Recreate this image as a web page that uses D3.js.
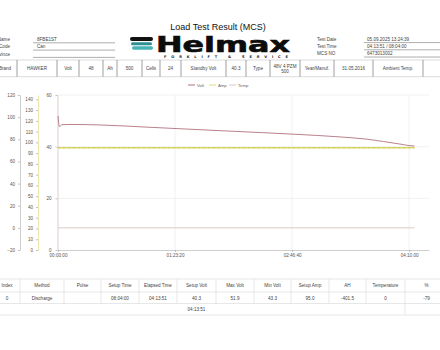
<!DOCTYPE html>
<html>
<head>
<meta charset="utf-8">
<script src="https://cdn.jsdelivr.net/npm/d3@7"></script>
<style>
body { margin: 0; background: #fff; }
svg { display: block; font-family: "Liberation Sans", Arial, sans-serif; }
</style>
</head>
<body>
<svg id="chart" width="440" height="350"></svg>
<script>
// ---- data ----
const timeSec = [0, 60, 170, 510, 1795, 3930, 7140, 10340, 11840, 13200, 14615, 15170, 15231];
const voltValues = [51.9, 47.8, 48.5, 48.6, 48.4, 47.5, 46.1, 44.7, 43.9, 42.9, 41.0, 40.3, 40.3];
const ampTimes = [0, 15231];
const ampValues = [95.0, 95.0];
const tempTimes = [0, 15231];
const tempValues = [0, 0];

const timeTicks = [0, 5000, 10000, 15000];
const timeTickLabels = ["00:00:00", "01:23:20", "02:46:40", "04:10:00"];
const voltTicks = [0, 20, 40, 60];
const ampTicks = [0, 10, 20, 30, 40, 50, 60, 70, 80, 90, 100, 110, 120, 130, 140];
const tempTicks = [-20, 0, 20, 40, 60, 80, 100, 120];

const seriesNames = ["Volt", "Amp", "Temp"];

const infoLeftLabels = ["Name", "Code", "Province"];
const infoLeftValues = ["8FBE1ST", "Can", ""];
const infoRightLabels = ["Test Date", "Test Time", "MCS NO"];
const infoRightValues = ["05.09.2025 13:24:39", "04:13:51 / 08:04:00", "6473013002"];

const headerCells = ["Brand", "HAWKER", "Volt", "48", "Ah", "500", "Cells", "24", "Standby Volt", "40.3",
  "Type", "48V 4 PZM|500", "Year/Manuf.", "31.05.2016", "Ambient Temp.", ""];
const resultHeaders = ["Index", "Method", "Pulse", "Setup Time", "Elapsed Time", "Setup Volt",
  "Max Volt", "Min Volt", "Setup Amp", "AH", "Temperature", "%"];
const resultValues = ["0", "Discharge", "", "08:04:00", "04:13:51", "40.3", "51.9", "43.3", "95.0", "-401.5", "0", "-79"];
const totalElapsed = "04:13:51";

// ---- layout ----
const svg = d3.select("#chart");
const colors = { volt: "#a8606e", amp: "#dcd860", temp: "#d6c4c0" };
const textCol = "#444";

svg.append("text").text("Load Test Result (MCS)")
  .attr("x", 218).attr("y", 30).attr("text-anchor", "middle")
  .attr("font-size", 9).attr("fill", "#111");

// left info block
infoLeftLabels.forEach((l, i) => {
  const y = 41 + i * 7.3;
  svg.append("text").text(l).attr("x", 10).attr("y", y).attr("text-anchor", "end")
    .attr("font-size", 4.6).attr("fill", textCol);
  svg.append("text").text(infoLeftValues[i]).attr("x", 37).attr("y", y)
    .attr("font-size", 4.6).attr("fill", textCol);
  svg.append("line").attr("x1", 33).attr("x2", 115).attr("y1", y + 1.8).attr("y2", y + 1.8)
    .attr("stroke", "#999").attr("stroke-width", 0.8);
});

// right info block
infoRightLabels.forEach((l, i) => {
  const y = 41 + i * 7.2;
  svg.append("text").text(l).attr("x", 317).attr("y", y)
    .attr("font-size", 4.6).attr("fill", textCol);
  svg.append("text").text(infoRightValues[i]).attr("x", 367).attr("y", y)
    .attr("font-size", 4.6).attr("fill", textCol);
  svg.append("line").attr("x1", 364).attr("x2", 440).attr("y1", y + 1.6).attr("y2", y + 1.6)
    .attr("stroke", "#999").attr("stroke-width", 0.8);
});

// logo
const logo = svg.append("g");
logo.append("rect").attr("x", 130).attr("y", 37).attr("width", 23).attr("height", 4).attr("rx", 2).attr("fill", "#111");
logo.append("rect").attr("x", 131).attr("y", 42.3).attr("width", 21).attr("height", 3).attr("rx", 1.5).attr("fill", "#2f8f92");
logo.append("rect").attr("x", 132).attr("y", 46.3).attr("width", 21).attr("height", 3.4).attr("rx", 1.7).attr("fill", "#47b3b5");
logo.append("text").text("Helmax").attr("x", 156).attr("y", 52.3)
  .attr("font-family", "DejaVu Sans").attr("font-weight", "bold").attr("font-size", 20.5)
  .attr("textLength", 134).attr("lengthAdjust", "spacingAndGlyphs")
  .attr("fill", "#0c0c0c").attr("stroke", "#0c0c0c").attr("stroke-width", 0.6);
logo.append("text").text("FORKLIFT & SERVICE").attr("x", 164).attr("y", 57.8)
  .attr("font-family", "DejaVu Sans").attr("font-weight", "bold").attr("font-size", 3.6)
  .attr("textLength", 124).attr("lengthAdjust", "spacing").attr("fill", "#222");

// header row
const headerEdges = [-8, 17, 57, 79, 103, 117, 142, 160, 181, 226, 246, 270, 300, 334, 373, 423, 448];
const hTop = 60, hBot = 76.7;
svg.append("line").attr("x1", 0).attr("x2", 440).attr("y1", hTop).attr("y2", hTop).attr("stroke", "#ccc").attr("stroke-width", 0.7);
svg.append("line").attr("x1", 0).attr("x2", 440).attr("y1", hBot).attr("y2", hBot).attr("stroke", "#ccc").attr("stroke-width", 0.7);
headerEdges.slice(1, -1).forEach(x => {
  svg.append("line").attr("x1", x).attr("x2", x).attr("y1", hTop).attr("y2", hBot)
    .attr("stroke", "#777").attr("stroke-width", 0.7);
});
headerCells.forEach((c, i) => {
  const cx = (headerEdges[i] + headerEdges[i + 1]) / 2;
  const lines = c.split("|");
  lines.forEach((t, j) => {
    svg.append("text").text(t).attr("x", i === 0 ? 5 : cx)
      .attr("y", 70.2 + (j - (lines.length - 1) / 2) * 5)
      .attr("text-anchor", "middle").attr("font-size", 4.6).attr("fill", textCol);
  });
});

// ---- chart ----
const plotL = 58, plotR = 429, plotT = 95, plotB = 250;
const x = d3.scaleLinear().domain([0, 15850]).range([plotL, plotR]);
const yVolt = d3.scaleLinear().domain([0, 60]).range([plotB, plotT]);
const yAmp = d3.scaleLinear().domain([0, 144]).range([plotB, plotT]);
const yTemp = d3.scaleLinear().domain([-20, 120]).range([plotB, plotT]);

const grid = svg.append("g").attr("stroke", "#ebebeb").attr("stroke-width", 0.7);
voltTicks.filter(v => v > 0).forEach(v => {
  grid.append("line").attr("x1", plotL).attr("x2", plotR).attr("y1", yVolt(v)).attr("y2", yVolt(v));
});
timeTicks.filter(t => t > 0).forEach(t => {
  grid.append("line").attr("x1", x(t)).attr("x2", x(t)).attr("y1", plotT).attr("y2", plotB);
});

function styleAxis(g, lineColor) {
  g.attr("font-size", 4.6).attr("font-family", "Liberation Sans, Arial, sans-serif");
  g.select(".domain").attr("stroke", lineColor).attr("stroke-width", 0.9);
  g.selectAll(".tick line").attr("stroke", "#999").attr("stroke-width", 0.6);
  g.selectAll(".tick text").attr("fill", "#555");
}

svg.append("g").attr("transform", "translate(20,0)")
  .call(d3.axisLeft(yTemp).tickValues(tempTicks).tickSize(2).tickPadding(3).tickSizeOuter(0))
  .call(g => styleAxis(g, "#c8c8c8"));
svg.append("g").attr("transform", "translate(38,0)")
  .call(d3.axisLeft(yAmp).tickValues(ampTicks).tickSize(2).tickPadding(3).tickSizeOuter(0))
  .call(g => styleAxis(g, "#e6e4a4"));
svg.append("g").attr("transform", "translate(" + (plotL - 0.5) + ",0)")
  .call(d3.axisLeft(yVolt).tickValues(voltTicks).tickSize(2).tickPadding(4).tickSizeOuter(0))
  .call(g => styleAxis(g, "#d9c8c8"));
svg.append("g").attr("transform", "translate(0," + plotB + ")")
  .call(d3.axisBottom(x).tickValues(timeTicks).tickFormat((d, i) => timeTickLabels[i]).tickSize(2).tickPadding(2).tickSizeOuter(0))
  .call(g => styleAxis(g, "#c8c8c8"));

// series
const tempLine = d3.line().x((d, i) => x(tempTimes[i])).y(d => yTemp(d));
svg.append("path").datum(tempValues).attr("d", tempLine)
  .attr("fill", "none").attr("stroke", colors.temp).attr("stroke-width", 0.9);

const ampLine = d3.line().x((d, i) => x(ampTimes[i])).y(d => yAmp(d));
svg.append("path").datum(ampValues).attr("d", ampLine)
  .attr("fill", "none").attr("stroke", colors.amp).attr("stroke-width", 1.3);
svg.append("path").datum(ampValues).attr("d", ampLine)
  .attr("fill", "none").attr("stroke", "#b9b66a").attr("stroke-width", 0.5).attr("stroke-dasharray", "2,3");

const voltLine = d3.line().x((d, i) => x(timeSec[i])).y(d => yVolt(d)).curve(d3.curveMonotoneX);
svg.append("path").datum(voltValues).attr("d", voltLine)
  .attr("fill", "none").attr("stroke", colors.volt).attr("stroke-width", 0.8);

// legend
const legendX = [188, 209, 229];
const legendCol = [colors.volt, colors.amp, colors.temp];
seriesNames.forEach((n, i) => {
  svg.append("line").attr("x1", legendX[i]).attr("x2", legendX[i] + 7).attr("y1", 85).attr("y2", 85)
    .attr("stroke", legendCol[i]).attr("stroke-width", 0.9);
  svg.append("text").text(n).attr("x", legendX[i] + 9).attr("y", 86.5)
    .attr("font-size", 4.2).attr("fill", "#666");
});

// ---- results table ----
const resultEdges = [-6, 20, 64, 101, 139, 177, 216, 254, 291, 329, 366, 405, 448];
const rowLines = [279, 292, 303.5, 315];
rowLines.forEach(y => {
  svg.append("line").attr("x1", 0).attr("x2", 440).attr("y1", y).attr("y2", y)
    .attr("stroke", "#ddd").attr("stroke-width", 0.7);
});
resultEdges.slice(1, -1).forEach(xe => {
  svg.append("line").attr("x1", xe).attr("x2", xe).attr("y1", rowLines[0]).attr("y2", rowLines[2])
    .attr("stroke", "#ddd").attr("stroke-width", 0.7);
});
svg.append("line").attr("x1", 405).attr("x2", 405).attr("y1", rowLines[2]).attr("y2", rowLines[3])
  .attr("stroke", "#ddd").attr("stroke-width", 0.7);
resultHeaders.forEach((h, i) => {
  const cx = (resultEdges[i] + resultEdges[i + 1]) / 2;
  svg.append("text").text(h).attr("x", cx).attr("y", 287).attr("text-anchor", "middle")
    .attr("font-size", 4.6).attr("fill", textCol);
  svg.append("text").text(resultValues[i]).attr("x", cx).attr("y", 299.5).attr("text-anchor", "middle")
    .attr("font-size", 4.6).attr("fill", textCol);
});
svg.append("text").text(totalElapsed).attr("x", (resultEdges[5] + resultEdges[6]) / 2).attr("y", 311)
  .attr("text-anchor", "middle").attr("font-size", 4.6).attr("fill", textCol);
</script>
</body>
</html>
